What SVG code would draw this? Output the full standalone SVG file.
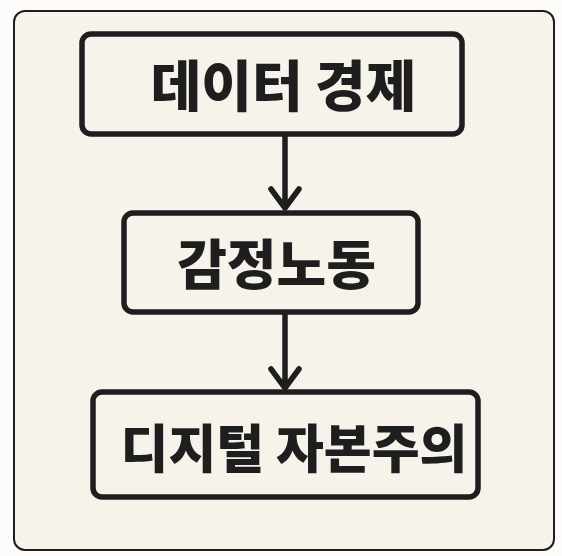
<svg xmlns="http://www.w3.org/2000/svg" width="562" height="556" viewBox="0 0 562 556">
<style>
.node rect{fill:#f7f3ea;stroke:#1e1e1e;stroke-width:5.5}
.node text{font-family:"Noto Sans CJK KR","Noto Sans",sans-serif;font-weight:900;font-size:55px;fill:#1e1e1e;text-anchor:middle}
.edge{stroke:#1e1e1e;stroke-width:5.5;fill:none;stroke-linecap:round;stroke-linejoin:round}
</style>
<rect x="0" y="0" width="562" height="556" fill="#fdfcfa"/>
<rect x="14" y="11" width="540" height="539" rx="11" fill="#f7f3ea" stroke="#1e1e1e" stroke-width="2"/>
<g id="connectors">
<path class="edge" d="M285 136 V208 M271 189 L285 208 L299 189"/>
<path class="edge" d="M285 315 V388 M271 369 L285 388 L299 369"/>
</g>
<g id="node1" class="node">
<rect x="82" y="34" width="380" height="100" rx="9"/>
<text x="283.5" y="106">데이터 경제</text>
</g>
<g id="node2" class="node">
<rect x="124" y="213" width="294" height="99" rx="9"/>
<text x="276.5" y="285" style="font-size:54px">감정노동</text>
</g>
<g id="node3" class="node">
<rect x="93" y="392" width="385" height="105" rx="9"/>
<text x="294" y="468" style="font-size:52px">디지털 자본주의</text>
</g>
</svg>
